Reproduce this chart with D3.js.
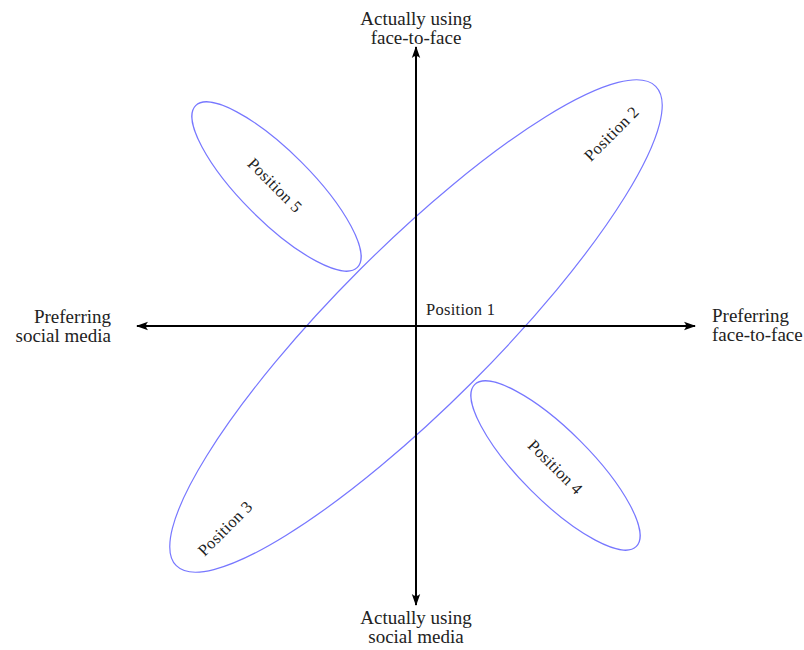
<!DOCTYPE html>
<html><head><meta charset="utf-8">
<script src="https://cdn.jsdelivr.net/npm/d3@7"></script>
<style>body{margin:0;background:#fff}svg{display:block}text{font-family:"Liberation Serif","DejaVu Serif",serif;fill:#222}</style>
</head><body>
<svg id="c" width="804" height="650"></svg>
<script>
// Conceptual units: axes span -10..10
const axisExtent = [-10, 10];
const axisLabels = [
  {end: "top", lines: ["Actually using", "face-to-face"]},
  {end: "bottom", lines: ["Actually using", "social media"]},
  {end: "left", lines: ["Preferring", "social media"]},
  {end: "right", lines: ["Preferring", "face-to-face"]}
];
const positionNames = ["Position 1", "Position 2", "Position 3", "Position 4", "Position 5"];
// ellipses: center (cx, cy), semi-axes (a, b), orientation of major axis in degrees
const ellipseCx = [0, 5, -5];
const ellipseCy = [0, -5, 5];
const ellipseA = [12.15, 4.1, 4.1];
const ellipseB = [2.85, 1.25, 1.25];
const ellipseAngle = [45, -45, -45];
// label anchor points (conceptual units) and rotation
const labelX = [1.6, 7.0, -6.85, 5.0, -5.05];
const labelY = [0.6, 6.9, -7.25, -5.05, 5.05];
const labelRot = [0, -45, -45, 45, 45];

const svg = d3.select("#c");
const x = d3.scaleLinear().domain(axisExtent).range([137, 695]);
const y = d3.scaleLinear().domain(axisExtent).range([605, 47]);
const k = x(1) - x(0);

const defs = svg.append("defs");
defs.append("marker").attr("id", "ah").attr("viewBox", "0 0 12 10")
  .attr("refX", 11).attr("refY", 5).attr("markerWidth", 12).attr("markerHeight", 10)
  .attr("markerUnits", "userSpaceOnUse").attr("orient", "auto-start-reverse")
  .append("path").attr("d", "M0,0.8 Q4,5 0,9.2 L12,5 Z").attr("fill", "#000");

// ellipses
const eg = svg.append("g");
ellipseCx.forEach((cx, i) => {
  eg.append("ellipse")
    .attr("cx", 0).attr("cy", 0)
    .attr("rx", ellipseA[i] * k).attr("ry", ellipseB[i] * k)
    .attr("transform", `translate(${x(cx)},${y(ellipseCy[i])}) rotate(${-ellipseAngle[i]})`)
    .attr("fill", "none").attr("stroke", "#7777ff").attr("stroke-width", 1.2);
});

// axes
svg.append("line").attr("x1", x(axisExtent[0])).attr("x2", x(axisExtent[1]))
  .attr("y1", y(0)).attr("y2", y(0))
  .attr("stroke", "#000").attr("stroke-width", 2)
  .attr("marker-start", "url(#ah)").attr("marker-end", "url(#ah)");
svg.append("line").attr("x1", x(0)).attr("x2", x(0))
  .attr("y1", y(axisExtent[0])).attr("y2", y(axisExtent[1]))
  .attr("stroke", "#000").attr("stroke-width", 2)
  .attr("marker-start", "url(#ah)").attr("marker-end", "url(#ah)");

// axis labels
const fs = 19, lh = 19;
axisLabels.forEach(l => {
  let px, py, anchor;
  if (l.end === "top") { px = x(0); py = 25; anchor = "middle"; }
  if (l.end === "bottom") { px = x(0); py = 624; anchor = "middle"; }
  if (l.end === "left") { px = 111; py = 323; anchor = "end"; }
  if (l.end === "right") { px = 712; py = 322; anchor = "start"; }
  const t = svg.append("text").attr("text-anchor", anchor).attr("font-size", fs);
  l.lines.forEach((s, j) => t.append("tspan").attr("x", px).attr("y", py + j * lh).text(s));
});

// position labels
positionNames.forEach((name, i) => {
  svg.append("text")
    .attr("transform", `translate(${x(labelX[i])},${y(labelY[i])}) rotate(${labelRot[i]})`)
    .attr("text-anchor", "middle").attr("dy", "0.35em")
    .attr("font-size", 16.5).attr("letter-spacing", 0.3).text(name);
});
</script>
</body></html>
